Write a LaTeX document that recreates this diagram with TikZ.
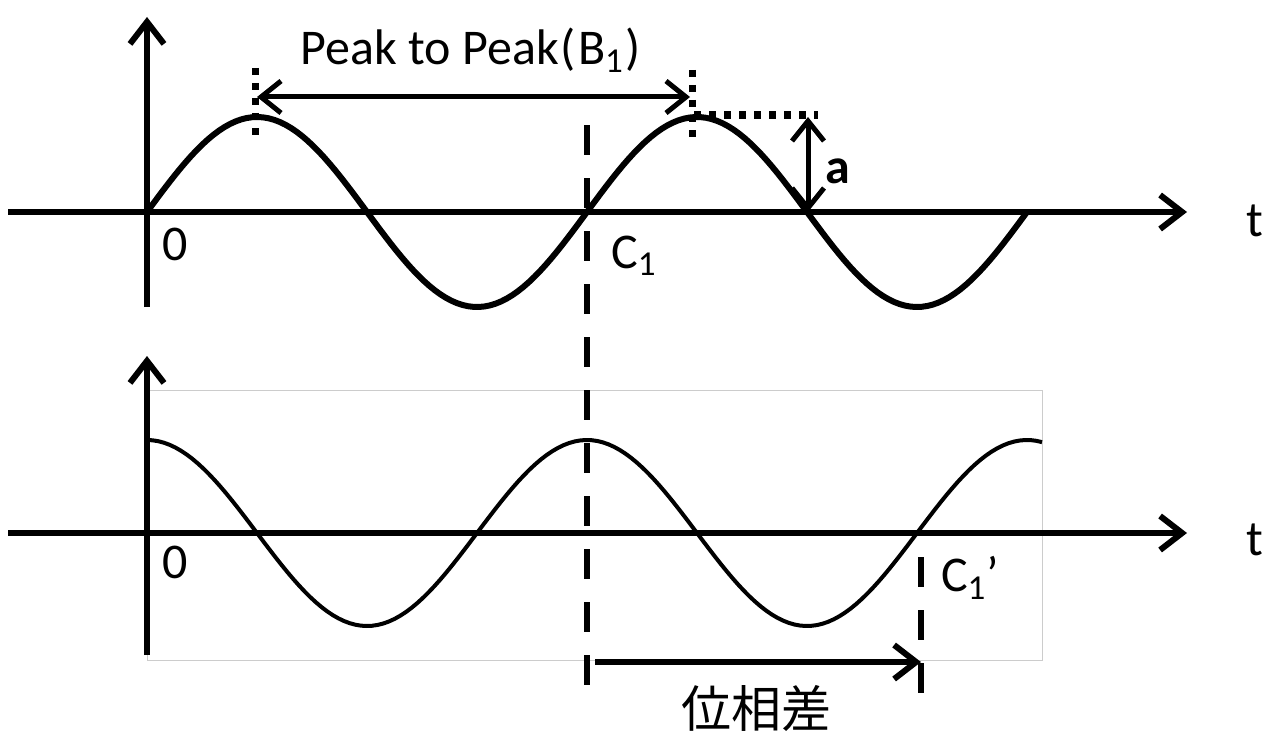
\documentclass[tikz,border=0pt]{standalone}
\usepackage{fontspec}
\setmainfont{Carlito}
\newfontfamily\cjk{Noto Sans CJK JP}
\usetikzlibrary{arrows.meta}

\tikzset{
  lbl/.style={font=\fontsize{25}{30}\selectfont, inner sep=0pt},
  axis/.style={line width=3pt, -{Straight Barb[length=11pt,width=17pt]}},
  wave/.style={line width=3pt, line join=round},
  dotline/.style={line width=3.5pt, dash pattern=on 3.5pt off 4pt},
  dashline/.style={line width=3pt, dash pattern=on 15pt off 11.5pt},
  dblarrow/.style={line width=2.5pt, {Straight Barb[length=10pt,width=16pt]}-{Straight Barb[length=10pt,width=16pt]}},
  onearrow/.style={line width=3pt, -{Straight Barb[length=11pt,width=17pt]}}
}

\begin{document}
\begin{tikzpicture}[x=0.5pt, y=-0.5pt]
    \useasboundingbox (0,0) rectangle (1278,733);

    % 上段 坐标系
    \coordinate (o1) at (147,212);
    \coordinate (y1b) at (147,307);
    \coordinate (y1t) at (147,17);
    \coordinate (x1l) at (8,212);
    \coordinate (x1r) at (1187,212);
    \draw[axis] (y1b) -- (y1t);
    \draw[axis] (x1l) -- (x1r);
    \node[lbl] (t1) at (1255,221) {t};
    \node[lbl] (zero1) at (175,244) {0};

    % 上段 正弦波
    \draw[wave] plot[domain=0:880, samples=160] ({147+\x}, {212-95*sin(\x/440*360)});

    % Peak to Peak
    \coordinate (pk1t) at (255,68);
    \coordinate (pk1b) at (255,137);
    \coordinate (pk2t) at (692,70);
    \coordinate (pk2b) at (692,139);
    \draw[dotline] (pk1t) -- (pk1b);
    \draw[dotline] (pk2t) -- (pk2b);
    \coordinate (ppl) at (257,97);
    \coordinate (ppr) at (690,97);
    \draw[dblarrow] (ppl) -- (ppr);
    \node[lbl] (ptp) at (471,50) {Peak to Peak\kern1pt(\kern1pt B\textsubscript{1}\kern1pt)};

    % 振幅 a
    \coordinate (pk2) at (694,115);
    \coordinate (ampr) at (818,115);
    \draw[dotline] (pk2) -- (ampr);
    \coordinate (amt) at (808,117);
    \coordinate (amb) at (808,212);
    \draw[dblarrow] (amt) -- (amb);
    \node[lbl, font=\fontsize{25}{30}\selectfont\bfseries] (amp) at (838,171) {a};

    % 下段 坐标系
    \draw[gray!40, line width=0.5pt] (147,390) rectangle (1042,660);
    \coordinate (o2) at (147,533);
    \coordinate (y2b) at (147,655);
    \coordinate (y2t) at (147,356);
    \coordinate (x2l) at (8,533);
    \coordinate (x2r) at (1187,533);
    \draw[axis] (y2b) -- (y2t);
    \draw[axis] (x2l) -- (x2r);
    \node[lbl] (t2) at (1255,540) {t};
    \node[lbl] (zero2) at (175,562) {0};

    % 下段 余弦波
    \draw[wave, line width=2pt] plot[domain=0:895, samples=160] ({147+\x}, {533-93*cos(\x/440*360)});

    % 位相差
    \coordinate (c1t) at (587,125);
    \coordinate (c1b) at (587,695);
    \coordinate (c2t) at (921,557);
    \coordinate (c2b) at (921,695);
    \draw[dashline] (c1t) -- (c1b);
    \draw[dashline] (c2t) -- (c2b);
    \coordinate (phl) at (595,662);
    \coordinate (phr) at (921,662);
    \draw[onearrow] (phl) -- (phr);
    \node[lbl] (c1) at (634,256) {C\textsubscript{1}};
    \node[lbl] (c1p) at (970,578) {C\textsubscript{1}’};
    \node[lbl] (phase) at (756,708) {\cjk 位相差};
\end{tikzpicture}
\end{document}
